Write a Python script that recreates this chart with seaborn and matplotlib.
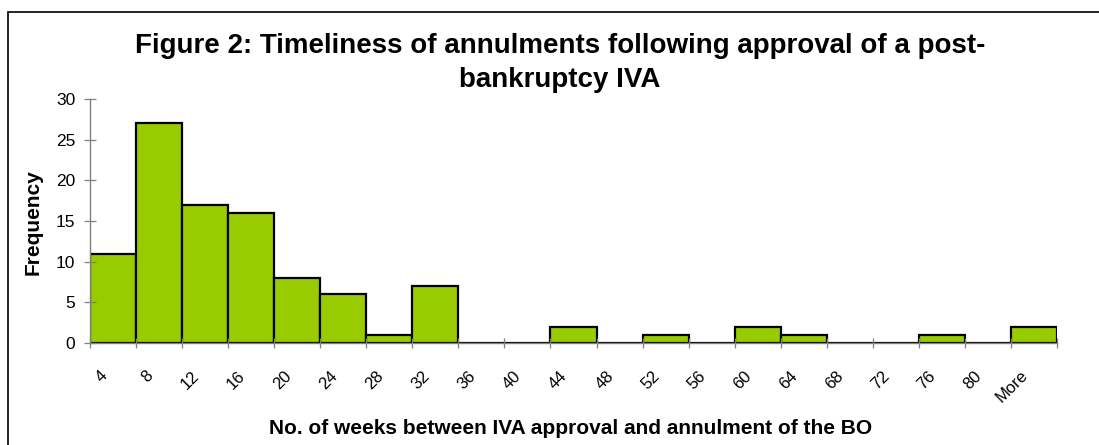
import matplotlib
matplotlib.use("Agg")
import matplotlib.pyplot as plt
import seaborn as sns
import numpy as np
import pandas as pd
from matplotlib.patches import Rectangle
from matplotlib.ticker import FixedLocator

bins = ["4", "8", "12", "16", "20", "24", "28", "32", "36", "40", "44", "48",
        "52", "56", "60", "64", "68", "72", "76", "80", "More"]
frequency = [11, 27, 17, 16, 8, 6, 1, 7, 0, 0, 2, 0, 1, 0, 2, 1, 0, 0, 1, 0, 2]

title = "Figure 2: Timeliness of annulments following approval of a post-\nbankruptcy IVA"
xlabel = "No. of weeks between IVA approval and annulment of the BO"
ylabel = "Frequency"

sns.set_theme(style="white")
plt.rcParams["font.family"] = ["Liberation Sans", "DejaVu Sans"]
plt.rcParams["text.color"] = "black"
plt.rcParams["xtick.labelcolor"] = "black"
plt.rcParams["ytick.labelcolor"] = "black"

W, H = 1099, 445
fig = plt.figure(figsize=(W / 100, H / 100), dpi=100)
ax_left, ax_right = 90, 1057
ax_bottom, ax_top = 343, 99
ax = fig.add_axes([ax_left / W, (H - ax_bottom) / H,
                   (ax_right - ax_left) / W, (ax_bottom - ax_top) / H])

df = pd.DataFrame({"bin": bins, "freq": frequency})
sns.barplot(data=df, x="bin", y="freq", ax=ax, width=1.0, color="#99CC00",
            saturation=1, edgecolor="black", linewidth=1.6)

ax.set_xlim(-0.5, len(bins) - 0.5)
ax.set_ylim(0, 30)
ax.set_yticks(range(0, 31, 5))
ax.tick_params(axis="y", length=9, width=0.9, color="#808080", labelsize=12.5,
               pad=6, left=True, direction="inout", labelcolor="black")

# category labels
n = len(bins)
ax.set_xticks([i - 0.30 for i in range(n)])
ax.set_xticklabels(bins, rotation=45, ha="right", va="top",
                   rotation_mode="anchor", fontsize=12, color="black")
ax.tick_params(axis="x", which="major", length=0, pad=18)
ax.xaxis.set_minor_locator(FixedLocator([i - 0.5 for i in range(n + 1)]))
ax.tick_params(axis="x", which="minor", length=7, width=0.9, color="#808080",
               bottom=True, direction="inout")

for s in ["top", "right"]:
    ax.spines[s].set_visible(False)
for s in ["left", "bottom"]:
    ax.spines[s].set_color("#808080")
    ax.spines[s].set_linewidth(1.0)
ax.set_axisbelow(False)

ax.set_xlabel("")
ax.set_ylabel("")
fig.text(33 / W, 1 - 222 / H, ylabel, rotation=90, ha="center", va="center",
         fontsize=15, fontweight="bold")
fig.text(571 / W, 1 - 429 / H, xlabel, ha="center", va="center",
         fontsize=15, fontweight="bold")
fig.text(560 / W, 1 - 63 / H, title, ha="center", va="center",
         fontsize=20, fontweight="bold", linespacing=1.4)

fig.patches.append(Rectangle((8 / W, -0.05), 1.2, (H - 12) / H + 0.05,
                             transform=fig.transFigure, fill=False,
                             edgecolor="black", linewidth=1.2))

fig.savefig("out.png", dpi=100)
